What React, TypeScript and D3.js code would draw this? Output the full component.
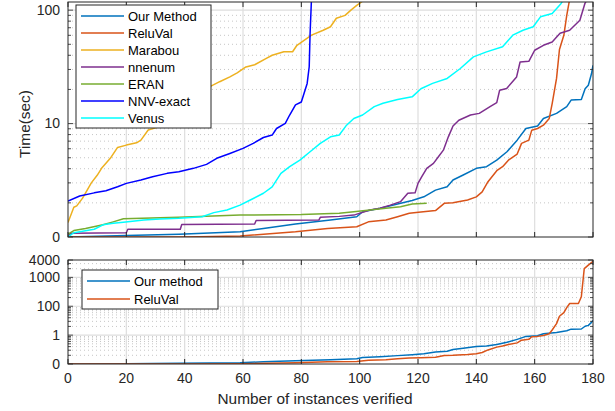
import * as d3 from 'd3';
import { useRef, useEffect } from 'react';

// --- data: [instance, time] ---
const ourMethod: [number, number][] = [
  [0, 1.0], [20, 1.03], [38, 1.06], [59, 1.11], [67, 1.19], [78, 1.3], [90, 1.41], [99, 1.51],
  [101, 1.67], [107, 1.79], [113, 1.95], [118, 2.1], [122, 2.26], [126, 2.59], [130, 2.77],
  [132, 3.18], [135.5, 3.52], [140, 4.03], [143.5, 4.17], [147, 4.76], [150.5, 5.64], [154, 7.14],
  [157, 9.05], [161, 9.51], [163, 11.1], [167.5, 12.3], [171, 14.1], [172.5, 16.1], [176, 16.3],
  [177.3, 20.3], [178.4, 21.8], [179.5, 27.6], [180, 32.6]
];

const reluVal: [number, number][] = [
  [0, 1.0], [40, 1.0], [59, 1.02], [78, 1.11], [89, 1.19], [99, 1.23], [103, 1.36], [109, 1.41],
  [113, 1.51], [117, 1.62], [121, 1.66], [126, 1.71], [129, 1.98], [132, 2.0], [137, 2.12],
  [140, 2.26], [142, 2.5], [144, 3.07], [147, 3.84], [149, 4.17], [151, 4.76], [154, 5.39],
  [155.5, 6.69], [158, 7.14], [159, 8.75], [161, 9.05], [163, 9.68], [165, 11.1], [166, 15],
  [167.5, 25], [168.5, 45], [170, 60], [171, 90], [172, 125], [175, 125], [176, 213],
  [177, 2000], [178.5, 2700], [180, 3600]
];

const marabou: [number, number][] = [
  [0, 1.34], [2, 1.83], [3, 1.88], [5, 2.2], [8, 3.0], [10, 3.5], [11.5, 4.03], [14.5, 4.94],
  [17, 6.16], [20, 6.46], [23.5, 6.77], [25, 7.15], [27.5, 8.77], [30, 9.17], [35, 11], [40, 14],
  [45, 17.5], [49, 21.4], [52, 23.4], [55.5, 25.8], [58, 28], [61, 31.6], [64, 33], [68, 37.6],
  [70, 40], [74, 42.9], [77, 43], [78.5, 49], [83.5, 60.2], [87.5, 66.5], [90, 71.4], [92, 84.9],
  [95, 90], [97, 100], [99, 110], [101, 120], [102, 130]
];

const nnenum: [number, number][] = [
  [0, 1.0], [1, 1.08], [20, 1.09], [20.5, 1.17], [38.5, 1.17], [39, 1.29], [64, 1.3], [64.5, 1.4],
  [86, 1.41], [86.5, 1.49], [93, 1.52], [98, 1.56], [103.5, 1.73], [107, 1.79], [110.5, 1.91],
  [114, 2.05], [116.5, 2.43], [119, 2.45], [120, 2.97], [121.3, 3.4], [123, 4.03], [125.3, 4.46],
  [127, 5.1], [128.7, 5.83], [130.4, 7.64], [132, 9.51], [134, 10.7], [138, 11.9], [141, 12.3],
  [144.7, 14.1], [147, 15.3], [148, 19.7], [150.4, 20.4], [153.8, 25.8], [155, 34.9], [158, 35.4],
  [160, 44.3], [163, 49], [166, 52.4], [168.7, 62.6], [172, 66.5], [175.5, 81.4], [177.2, 114],
  [178, 125]
];

const eran: [number, number][] = [
  [0, 1.06], [2, 1.14], [6, 1.19], [12, 1.28], [15.5, 1.36], [19, 1.45], [38, 1.49], [59, 1.56],
  [80, 1.58], [93, 1.62], [98, 1.67], [103.5, 1.73], [109, 1.79], [114, 1.85], [118, 1.95], [123, 1.98]
];

const nnvExact: [number, number][] = [
  [0, 2.07], [4, 2.3], [9, 2.45], [13, 2.56], [17, 2.77], [20, 2.97], [25, 3.18], [29, 3.4],
  [34, 3.64], [38, 3.76], [43, 4.03], [47.5, 4.37], [51, 4.94], [55.5, 5.45], [60, 6.05],
  [63.5, 6.69], [67, 7.54], [70, 7.92], [71.5, 9.05], [74.5, 10.05], [76, 11.9], [78, 14.6],
  [80, 15.5], [82, 22.6], [82.7, 31.7], [83, 62], [83.5, 130]
];

const venus: [number, number][] = [
  [0, 1.0], [2, 1.09], [9, 1.17], [12, 1.28], [15.5, 1.32], [19, 1.35], [26, 1.41], [31.5, 1.44],
  [38, 1.46], [46, 1.51], [50, 1.64], [54.5, 1.73], [59, 1.91], [62.5, 2.12], [67, 2.43],
  [70, 2.77], [73, 3.64], [76, 4.17], [79.5, 4.76], [83, 5.64], [86.5, 6.69], [90, 7.64],
  [93, 7.92], [95.5, 9.68], [98, 11.1], [101, 11.9], [105, 14.1], [108, 15.1], [113, 16.3],
  [118, 17.2], [121, 20.3], [125, 22.6], [130, 25], [134.5, 30.6], [139, 38.7], [143.5, 42.9],
  [149, 47.5], [152.5, 60.2], [156, 66.5], [159.5, 71.4], [162, 87.3], [166, 93.6], [169, 114],
  [170, 125]
];

const xTicks = [0, 20, 40, 60, 80, 100, 120, 140, 160, 180];
const topYTicks = [1, 10, 100];
const topYLabels = ['0', '10', '100'];
const bottomYTicks = [1, 10, 100, 1000, 4000];
const bottomYLabels = ['0', '1', '100', '1000', '4000'];

const topSeries = [
  { name: 'Our Method', color: '#0072BD', data: ourMethod },
  { name: 'ReluVal', color: '#D95319', data: reluVal },
  { name: 'Marabou', color: '#EDB120', data: marabou },
  { name: 'nnenum', color: '#7E2F8E', data: nnenum },
  { name: 'ERAN', color: '#77AC30', data: eran },
  { name: 'NNV-exact', color: '#0000FF', data: nnvExact },
  { name: 'Venus', color: '#00FFFF', data: venus }
];
const bottomSeries = [
  { name: 'Our method', color: '#0072BD', data: ourMethod },
  { name: 'ReluVal', color: '#D95319', data: reluVal }
];

export default function App() {
  const ref = useRef<SVGSVGElement>(null);

  useEffect(() => {
    const width = 615;
    const height = 411;
    const axisColor = '#262626';
    const font = "'Liberation Sans', Arial, Helvetica, sans-serif";

    const svg = d3.select(ref.current)
      .attr('width', width)
      .attr('height', height)
      .attr('viewBox', `0 0 ${width} ${height}`)
      .style('font-family', font);
    svg.selectAll('*').remove();
    svg.append('rect').attr('width', width).attr('height', height).attr('fill', '#fff');

    const x = d3.scaleLinear().domain([0, 180]).range([68, 593]);

    // one panel: grid, lines, box, ticks, legend
    function panel(
      y: d3.ScaleLogarithmic<number, number>,
      yTicks: number[], yLabels: string[],
      series: { name: string; color: string; data: [number, number][] }[],
      id: string,
      legend: { x: number; y: number; w: number; h: number; step: number }
    ) {
      const [y0, y1] = y.range(); // bottom, top
      const [x0, x1] = x.range();
      const g = svg.append('g');

      // minor y values (2..9 of each decade)
      const [d0, d1] = y.domain();
      const minor: number[] = [];
      for (let p = 1; p <= d1; p *= 10) {
        for (let k = 2; k <= 9; k++) if (p * k < d1 && p * k > d0) minor.push(p * k);
      }

      g.selectAll('.minor').data(minor).join('line')
        .attr('x1', x0).attr('x2', x1)
        .attr('y1', d => y(d)).attr('y2', d => y(d))
        .attr('stroke', '#b8b8b8').attr('stroke-width', 0.8).attr('stroke-dasharray', '1 3');

      g.selectAll('.hgrid').data(yTicks.filter(d => d > d0 && d < d1)).join('line')
        .attr('x1', x0).attr('x2', x1)
        .attr('y1', d => y(d)).attr('y2', d => y(d))
        .attr('stroke', '#dedede').attr('stroke-width', 1.2);

      g.selectAll('.vgrid').data(xTicks.slice(1, -1)).join('line')
        .attr('x1', d => x(d)).attr('x2', d => x(d))
        .attr('y1', y0).attr('y2', y1)
        .attr('stroke', '#dedede').attr('stroke-width', 1.2);

      // clip + series
      svg.append('clipPath').attr('id', id)
        .append('rect').attr('x', x0).attr('y', y1).attr('width', x1 - x0).attr('height', y0 - y1);

      const line = d3.line<[number, number]>()
        .x(d => x(d[0]))
        .y(d => y(Math.min(d[1], d1 * 1.5)));

      g.append('g').attr('clip-path', `url(#${id})`)
        .selectAll('path').data(series).join('path')
        .attr('d', d => line(d.data))
        .attr('fill', 'none')
        .attr('stroke', d => d.color)
        .attr('stroke-width', 1.5)
        .attr('stroke-linejoin', 'round');

      // box
      g.append('rect')
        .attr('x', x0).attr('y', y1).attr('width', x1 - x0).attr('height', y0 - y1)
        .attr('fill', 'none').attr('stroke', axisColor).attr('stroke-width', 1);

      // x ticks, inward on bottom and top
      g.selectAll('.xtb').data(xTicks).join('line')
        .attr('x1', d => x(d)).attr('x2', d => x(d))
        .attr('y1', y0).attr('y2', y0 - 5)
        .attr('stroke', axisColor);
      g.selectAll('.xtt').data(xTicks).join('line')
        .attr('x1', d => x(d)).attr('x2', d => x(d))
        .attr('y1', y1).attr('y2', y1 + 5)
        .attr('stroke', axisColor);

      // y ticks, major and minor, both sides
      const ytk = [...yTicks.map(v => ({ v, len: 5 })), ...minor.map(v => ({ v, len: 3 }))];
      g.selectAll('.ytl').data(ytk).join('line')
        .attr('x1', x0).attr('x2', d => x0 + d.len)
        .attr('y1', d => y(d.v)).attr('y2', d => y(d.v))
        .attr('stroke', axisColor).attr('stroke-width', 0.8);
      g.selectAll('.ytr').data(ytk).join('line')
        .attr('x1', x1).attr('x2', d => x1 - d.len)
        .attr('y1', d => y(d.v)).attr('y2', d => y(d.v))
        .attr('stroke', axisColor).attr('stroke-width', 0.8);

      g.selectAll('.ylab').data(yTicks).join('text')
        .attr('x', x0 - 8)
        .attr('y', d => y(d))
        .attr('dy', '0.35em')
        .attr('text-anchor', 'end')
        .attr('font-size', 14)
        .attr('fill', axisColor)
        .text((d, i) => yLabels[i]);

      // legend
      const lg = g.append('g').attr('transform', `translate(${legend.x},${legend.y})`);
      lg.append('rect')
        .attr('width', legend.w).attr('height', legend.h)
        .attr('fill', '#fff').attr('stroke', axisColor).attr('stroke-width', 1);
      const item = lg.selectAll('.item').data(series).join('g')
        .attr('transform', (d, i) => `translate(0,${11 + i * legend.step})`);
      item.append('line')
        .attr('x1', 5).attr('x2', 48)
        .attr('stroke', d => d.color).attr('stroke-width', 1.5);
      item.append('text')
        .attr('x', 52).attr('dy', '0.35em')
        .attr('font-size', 13).attr('fill', '#000')
        .text(d => d.name);
    }

    const yTop = d3.scaleLog().domain([1, 118]).range([237, 2]);
    const yBot = d3.scaleLog().domain([1, 4000]).range([364, 260]);

    panel(yTop, topYTicks, topYLabels, topSeries, 'clipTop', { x: 76, y: 5, w: 135, h: 123, step: 17 });
    panel(yBot, bottomYTicks, bottomYLabels, bottomSeries, 'clipBot', { x: 82, y: 270, w: 136, h: 39, step: 18 });

    // x tick labels (bottom panel only)
    svg.append('g').selectAll('text').data(xTicks).join('text')
      .attr('x', d => x(d)).attr('y', 378).attr('dy', '0.35em')
      .attr('text-anchor', 'middle').attr('font-size', 14).attr('fill', axisColor)
      .text(d => d);

    svg.append('text')
      .attr('x', 315).attr('y', 399).attr('dy', '0.35em')
      .attr('text-anchor', 'middle').attr('font-size', 15.4).attr('fill', axisColor)
      .text('Number of instances verified');

    svg.append('text')
      .attr('transform', 'translate(25,124) rotate(-90)')
      .attr('dy', '0.35em')
      .attr('text-anchor', 'middle').attr('font-size', 15.4).attr('fill', axisColor)
      .text('Time(sec)');
  }, []);

  return <svg ref={ref} style={{ position: 'absolute', left: 0, top: 0, display: 'block' }} />;
}
